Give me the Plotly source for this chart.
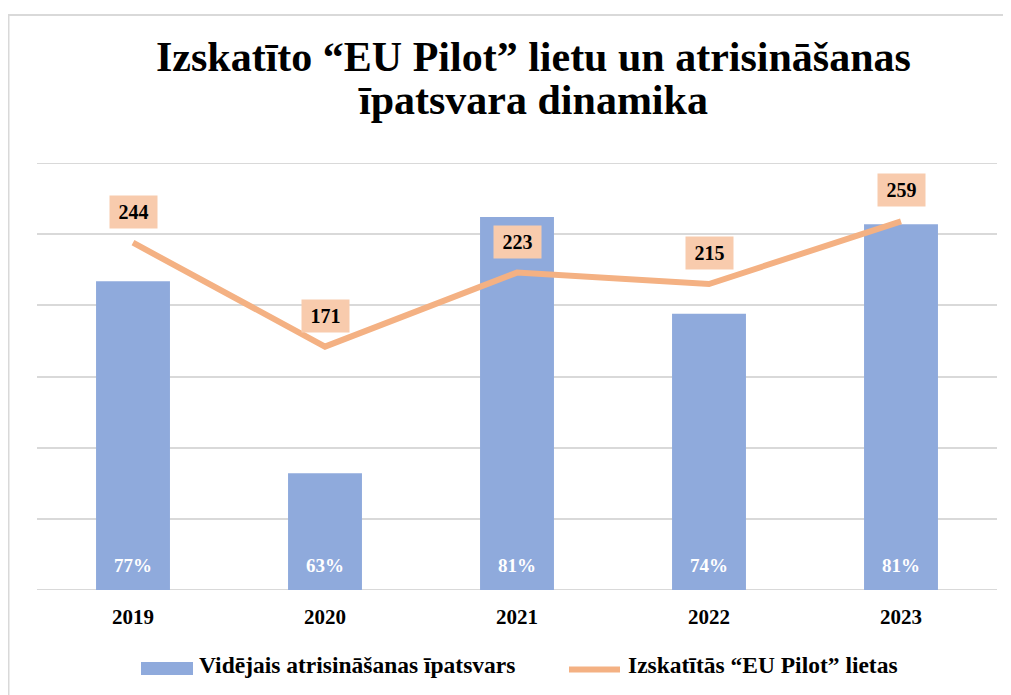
import plotly.graph_objects as go

years = ["2019", "2020", "2021", "2022", "2023"]
resolution_share = [76.7, 63.2, 81.2, 74.4, 80.7]   # % (labels rounded)
cases_reviewed = [244, 171, 223, 215, 259]

title_lines = ["Izskatīto “EU Pilot” lietu un atrisināšanas", "īpatsvara dinamika"]
bar_name = "Vidējais atrisināšanas īpatsvars"
line_name = "Izskatītās “EU Pilot” lietas"

SERIF = "Liberation Serif, Times New Roman, serif"
BAR_COLOR = "#8FAADC"
LINE_COLOR = "#F4B183"
LABEL_BG = "#F8CBAD"
GRID = "#D9D9D9"

Y1_RANGE = [55, 85]
Y2_RANGE = [0, 300]

# page has an 8px body margin, so the figure is laid out in (screen - 8) coords
W, H = 1003, 687
L, R, T, B = 29, 14, 155, 105
pw = W - L - R
ph = H - T - B


def px_x(x):  # figure pixel -> paper x
    return (x - L) / pw


def px_y(y):  # figure pixel -> paper y
    return (T + ph - y) / ph


fig = go.Figure()
fig.add_trace(go.Bar(
    x=years, y=resolution_share, name=bar_name,
    marker=dict(color=BAR_COLOR, line=dict(width=0)),
    showlegend=False, hoverinfo="x+y",
))
fig.add_trace(go.Scatter(
    x=years, y=cases_reviewed, name=line_name, yaxis="y2",
    mode="lines", line=dict(color=LINE_COLOR, width=6),
    showlegend=False,
))

# gridlines at the range edges (top and baseline)
for yv in Y1_RANGE:
    fig.add_shape(type="line", xref="paper", yref="y", x0=0, x1=1, y0=yv, y1=yv,
                  line=dict(color=GRID, width=2), layer="below")

# bar value labels, inside near the base
for i, v in enumerate(resolution_share):
    fig.add_annotation(
        x=i, y=Y1_RANGE[0], xref="x", yref="y", text=f"<b>{v:.0f}%</b>",
        showarrow=False, yshift=25, yanchor="middle",
        font=dict(family=SERIF, size=19, color="white"),
    )

# line value labels in boxes above the points
for i, v in enumerate(cases_reviewed):
    fig.add_annotation(
        x=i, y=v, xref="x", yref="y2", text=f"<b>{v}</b>",
        showarrow=False, yshift=31, yanchor="middle",
        bgcolor=LABEL_BG, borderpad=0, width=47, height=32,
        font=dict(family=SERIF, size=20, color="black"),
    )

# title (two lines, tight leading)
for txt, ymid in zip(title_lines, [49, 92]):
    fig.add_annotation(
        x=px_x(525), y=px_y(ymid), xref="paper", yref="paper",
        text=f"<b>{txt}</b>", showarrow=False, xanchor="center", yanchor="middle",
        font=dict(family=SERIF, size=42, color="black"),
    )

# custom legend
fig.add_shape(type="rect", xref="paper", yref="paper",
              x0=px_x(133), x1=px_x(185), y0=px_y(667), y1=px_y(654),
              fillcolor=BAR_COLOR, line=dict(width=0))
fig.add_shape(type="line", xref="paper", yref="paper",
              x0=px_x(561), x1=px_x(612), y0=px_y(661.5), y1=px_y(661.5),
              line=dict(color=LINE_COLOR, width=6))
for txt, x0 in [(bar_name, 189), (line_name, 618)]:
    fig.add_annotation(
        x=px_x(x0), y=px_y(657), xref="paper", yref="paper",
        text=f"<b>{txt}</b>", showarrow=False, xanchor="left", yanchor="middle",
        font=dict(family=SERIF, size=23.5, color="black"),
    )

# outer chart border (left and top edges visible)
fig.add_shape(type="rect", xref="paper", yref="paper",
              x0=px_x(0.5), x1=px_x(W + 20), y0=px_y(H + 20), y1=px_y(7),
              line=dict(color=GRID, width=2), layer="below")

fig.update_layout(
    width=W, height=H,
    margin=dict(l=L, r=R, t=T, b=B),
    paper_bgcolor="white", plot_bgcolor="white",
    bargap=0.615,
    showlegend=False,
    xaxis=dict(type="category", range=[-0.5, 4.5], showgrid=False, showline=False,
               ticks="", ticklabelstandoff=12,
               tickfont=dict(family=SERIF, size=21, color="black", weight="bold")),
    yaxis=dict(range=Y1_RANGE, dtick=5, tick0=55, showgrid=True, gridcolor=GRID,
               gridwidth=2, showticklabels=False, showline=False, zeroline=False,
               ticks=""),
    yaxis2=dict(range=Y2_RANGE, overlaying="y", side="right", showgrid=False,
                showticklabels=False, showline=False, zeroline=False, ticks=""),
)

fig.write_html("out.html")
